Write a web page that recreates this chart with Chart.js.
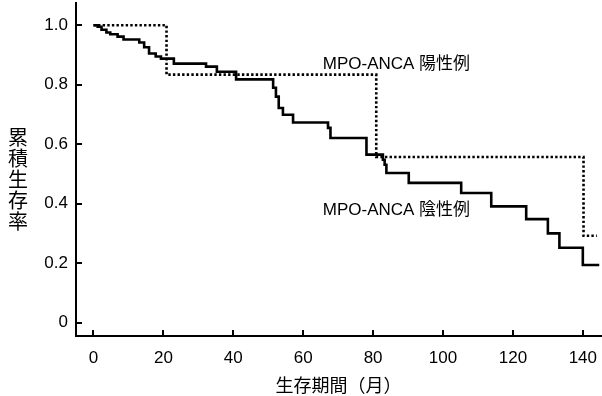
<!DOCTYPE html>
<html>
<head>
<meta charset="utf-8">
<script src="https://cdn.jsdelivr.net/npm/chart.js@4.4.0/dist/chart.umd.min.js"></script>
<style>
  body { margin: 0; background: #fff; }
  canvas { display: block; }
</style>
</head>
<body>
<canvas id="km" width="602" height="396"></canvas>
<script>
// MPO-ANCA negative (solid): event times (months) and survival after each step
let negTimes = [0, 1.2, 2.3, 3.7, 4.8, 6.9, 8.6, 13.1, 14.5, 15.9, 17.8, 19.3, 23.0, 32.2, 35.3, 40.8,
                51.4, 52.2, 53.0, 54.2, 57.1, 67.1, 67.8, 78.1, 82.8, 83.3, 83.8, 90.2, 105.2, 113.8,
                123.8, 130.0, 133.3, 140.0, 144.7]
let negSurv = [1.0, 0.995, 0.985, 0.976, 0.97, 0.962, 0.952, 0.942, 0.926, 0.905, 0.895, 0.888, 0.871, 0.861, 0.844, 0.818,
               0.79, 0.76, 0.722, 0.699, 0.673, 0.655, 0.621, 0.565, 0.548, 0.531, 0.503, 0.47, 0.436, 0.391,
               0.348, 0.3, 0.252, 0.194, 0.194]

// MPO-ANCA positive (dotted)
let posTimes = [0, 20.9, 80.9, 140.2, 144.0]
let posSurv = [1.0, 0.834, 0.557, 0.292, 0.292]

let xTicks = [0, 20, 40, 60, 80, 100, 120, 140]
let yTicks = [0, 0.2, 0.4, 0.6, 0.8, 1.0]
let yTickLabels = ['0', '0.2', '0.4', '0.6', '0.8', '1.0']

let xTitle = '生存期間（月）'
let yTitle = ['累', '積', '生', '存', '率']
let seriesNames = ['MPO-ANCA 陽性例', 'MPO-ANCA 陰性例']
// where the two curve labels sit, in data units (left edge, middle)
let labelAt = [[65.6, 0.868], [65.6, 0.379]]

const latin = '"Liberation Sans", Arial, "Noto Sans CJK JP", sans-serif'

function toPoints(ts, ss) {
    return ts.map(function(t, i) { return {x: t, y: ss[i]} })
}

// draws inward tick marks, the y title and the curve labels
const decor = {
    id: 'decor',
    afterDraw(chart) {
        const ctx = chart.ctx
        const x = chart.scales.x
        const y = chart.scales.y
        ctx.save()
        ctx.strokeStyle = '#000'
        ctx.lineWidth = 2
        xTicks.forEach(function(v) {
            let px = Math.round(x.getPixelForValue(v))
            ctx.beginPath()
            ctx.moveTo(px, x.top)
            ctx.lineTo(px, x.top - 6)
            ctx.stroke()
        })
        yTicks.forEach(function(v) {
            let py = Math.round(y.getPixelForValue(v))
            ctx.beginPath()
            ctx.moveTo(y.right, py)
            ctx.lineTo(y.right + 6, py)
            ctx.stroke()
        })

        ctx.fillStyle = '#000'
        ctx.textAlign = 'center'
        ctx.textBaseline = 'middle'
        ctx.font = '20px "Noto Sans CJK JP", sans-serif'
        yTitle.forEach(function(ch, i) {
            ctx.fillText(ch, 18, 137 + i * 21)
        })

        ctx.textAlign = 'left'
        ctx.font = '17px ' + latin
        seriesNames.forEach(function(name, i) {
            ctx.fillText(name, x.getPixelForValue(labelAt[i][0]), y.getPixelForValue(labelAt[i][1]))
        })
        ctx.restore()
    }
}

new Chart(document.getElementById('km'), {
    type: 'line',
    data: {
        datasets: [{
            label: seriesNames[1],
            data: toPoints(negTimes, negSurv),
            borderColor: '#000',
            borderWidth: 2.6,
            stepped: true,
            pointRadius: 0,
            fill: false
        }, {
            label: seriesNames[0],
            data: toPoints(posTimes, posSurv),
            borderColor: '#000',
            borderWidth: 2.6,
            borderDash: [2.4, 2.2],
            stepped: true,
            pointRadius: 0,
            fill: false
        }]
    },
    options: {
        responsive: false,
        animation: false,
        layout: { padding: { top: 3, right: 1, left: 0, bottom: 0 } },
        plugins: {
            legend: { display: false },
            tooltip: { enabled: false }
        },
        scales: {
            x: {
                type: 'linear',
                min: -5,
                max: 145.2,
                grid: { display: false, drawTicks: false },
                border: { display: true, color: '#000', width: 2 },
                afterBuildTicks: function(scale) {
                    scale.ticks = xTicks.map(function(v) { return {value: v} })
                },
                afterFit: function(scale) {
                    scale.height = 60
                    scale.paddingLeft = 0
                    scale.paddingRight = 0
                },
                ticks: {
                    color: '#000',
                    padding: 12,
                    maxRotation: 0,
                    font: { family: latin, size: 17 },
                    callback: function(v) { return String(v) }
                },
                title: {
                    display: true,
                    text: xTitle,
                    color: '#000',
                    padding: { top: 0, bottom: 0 },
                    font: { family: '"Noto Sans CJK JP", sans-serif', size: 18 }
                }
            },
            y: {
                type: 'linear',
                min: -0.045,
                max: 1.075,
                grid: { display: false, drawTicks: false },
                border: { display: true, color: '#000', width: 2 },
                afterBuildTicks: function(scale) {
                    scale.ticks = yTicks.map(function(v) { return {value: v} })
                },
                afterFit: function(scale) {
                    scale.width = 76
                    scale.paddingTop = 0
                    scale.paddingBottom = 0
                },
                ticks: {
                    color: '#000',
                    padding: 8,
                    font: { family: latin, size: 17 },
                    callback: function(v) {
                        let i = yTicks.indexOf(v)
                        return i >= 0 ? yTickLabels[i] : ''
                    }
                }
            }
        }
    },
    plugins: [decor]
})
</script>
</body>
</html>
